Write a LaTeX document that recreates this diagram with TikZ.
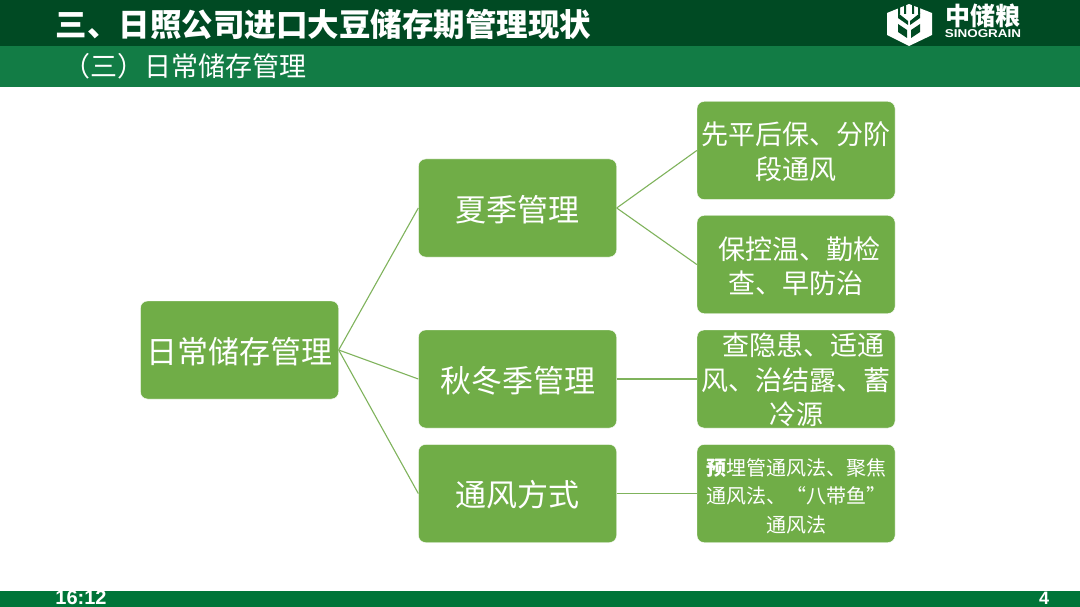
\documentclass[tikz,border=0pt]{standalone}
\usepackage{fontspec}
\setmainfont{Noto Sans CJK SC}
\newfontfamily\latinbold[BoldFont={Liberation Sans Bold}]{Liberation Sans}
\newcommand\padtop[1]{\rule{0pt}{#1em}}
\definecolor{topbar}{HTML}{004A23}
\definecolor{subbar}{HTML}{127C45}
\definecolor{footbar}{HTML}{007539}
\definecolor{boxgreen}{HTML}{70AD47}
\definecolor{edgegreen}{HTML}{7FB35C}
\tikzset{
  box/.style={rounded corners=7pt,fill=boxgreen,draw=white,line width=0.4pt,
    minimum width=198pt,minimum height=98pt,inner sep=0pt,text=white,align=center,
    font=\fontsize{31}{36}\selectfont},
  leafbox/.style={box,font=\fontsize{27}{34.5}\selectfont},
  smallbox/.style={box,font=\fontsize{20}{28.5}\selectfont},
  link/.style={draw=edgegreen,line width=1.1pt},
  barlabel/.style={text=white,inner sep=0pt,anchor=west},
}
\begin{document}
\begin{tikzpicture}[x=1pt,y=-1pt]
\useasboundingbox (0,0) rectangle (1080,607);
\fill[white] (0,0) rectangle (1080,607);
% header bars
\fill[topbar] (0,0) rectangle (1080,46);
\fill[subbar] (0,46) rectangle (1080,87);
\fill[footbar] (0,591) rectangle (1080,607);
\node[barlabel,font=\fontsize{31.5}{34}\selectfont\bfseries] (title) at (55.5,24) {三、日照公司进口大豆储存期管理现状};
\node[barlabel,font=\fontsize{27}{30}\selectfont] (subtitle) at (63,66) {（三）日常储存管理};
% logo
\fill[white] (887,13) -- (909,4) -- (932,13) -- (932,35) -- (909,46) -- (887,35) -- cycle;
\fill[topbar] (898,3) rectangle (900,14) (904,0) rectangle (906,14) (912,0) rectangle (914,14) (918,3) rectangle (920,14);
\fill[topbar] (898,13) -- (908,21) -- (908,25) -- (898,18) -- cycle
  (920,13) -- (910,21) -- (910,25) -- (920,18) -- cycle
  (898,24) -- (907,30) -- (907,38) -- (898,32) -- cycle
  (920,24) -- (911,30) -- (911,38) -- (920,32) -- cycle;
\node[text=white,inner sep=0pt,font=\fontsize{25}{28}\selectfont\bfseries] (logocn) at (983,16) {中储粮};
\node[text=white,inner sep=0pt,font=\latinbold\fontsize{11.4}{12}\selectfont\bfseries] (logoen) at (983,33.5) {\scalebox{1.18}[1]{SINOGRAIN}};
% boxes
\node[box] (root) at (239.5,350) {\padtop{0.95}日常储存管理};
\node[box] (summer) at (517.5,208) {\padtop{0.95}夏季管理};
\node[box] (autumn) at (517.5,379) {\padtop{0.95}秋冬季管理};
\node[box] (vent) at (517.5,493.5) {\padtop{0.95}通风方式};
\node[leafbox] (l1) at (796,150.5) {\padtop{0.92}先平后保、分阶\\段通风};
\node[leafbox] (l2) at (796,264.5) {\padtop{0.96}\hspace*{7pt}保控温、勤检\\查、早防治};
\node[leafbox] (l3) at (796,379) {\padtop{0.92}\hspace*{14pt}查隐患、适通\\风、治结露、蓄\\冷源};
\node[smallbox] (l4) at (796,493.5) {\padtop{1.1}{\bfseries 预}埋管通风法、聚焦\\通风法、“八带鱼”\\通风法};
% connectors
\draw[link] (root.east) -- (summer.west);
\draw[link] (root.east) -- (autumn.west);
\draw[link] (root.east) -- (vent.west);
\draw[link] (summer.east) -- (l1.west);
\draw[link] (summer.east) -- (l2.west);
\draw[link] (autumn.east) -- (l3.west);
\draw[link] (vent.east) -- (l4.west);
% footer
\node[text=white,inner sep=0pt,font=\latinbold\fontsize{20}{22}\selectfont\bfseries] (time) at (81,598) {16:12};
\node[text=white,inner sep=0pt,font=\latinbold\fontsize{18}{20}\selectfont\bfseries] (page) at (1044,598.5) {4};
\end{tikzpicture}
\end{document}
